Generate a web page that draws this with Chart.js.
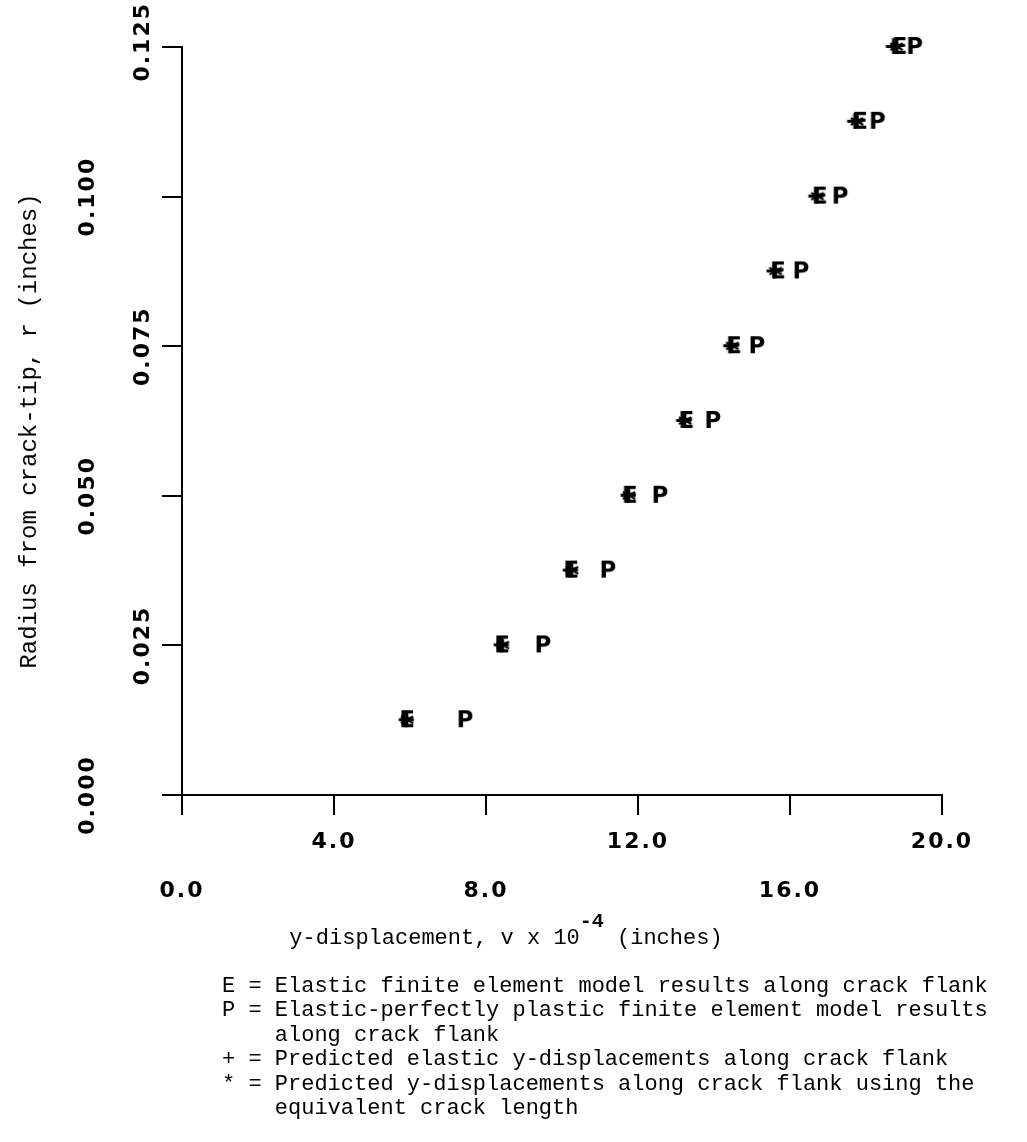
<!DOCTYPE html>
<html>
<head>
<meta charset="utf-8">
<script src="https://cdn.jsdelivr.net/npm/chart.js@4"></script>
<style>
  html, body { margin: 0; padding: 0; background: #fff; }
  #wrap { width: 1027px; height: 1142px; }
</style>
</head>
<body>
<div id="wrap"><canvas id="crackChart" width="1027" height="1142"></canvas></div>
<script>
// radius from crack tip (inches)
const rValues = [0.0125, 0.025, 0.0375, 0.05, 0.0625, 0.075, 0.0875, 0.1, 0.1125, 0.125];
// y-displacement x 1e-4 (inches) for each marker type
const elasticFE        = [5.92, 8.42, 10.24, 11.78, 13.27, 14.52, 15.68, 16.78, 17.84, 18.88];
const plasticFE        = [7.45, 9.50, 11.21, 12.58, 13.97, 15.13, 16.29, 17.32, 18.30, 19.28];
const predictedElastic = [5.90, 8.40, 10.22, 11.74, 13.20, 14.44, 15.58, 16.68, 17.70, 18.72];
const predictedEquiv   = [5.92, 8.44, 10.26, 11.76, 13.24, 14.48, 15.62, 16.72, 17.76, 18.80];

const xTicks = [0, 4, 8, 12, 16, 20];
const yTicks = [0, 0.025, 0.05, 0.075, 0.1, 0.125];

const legendLines = [
    "E = Elastic finite element model results along crack flank",
    "P = Elastic-perfectly plastic finite element model results",
    "    along crack flank",
    "+ = Predicted elastic y-displacements along crack flank",
    "* = Predicted y-displacements along crack flank using the",
    "    equivalent crack length"
];

// marker glyph -> small canvas used as pointStyle
function glyph(ch, size, dy) {
    const c = document.createElement("canvas");
    c.width = 28; c.height = 28;
    const g = c.getContext("2d");
    g.fillStyle = "#000";
    g.font = "bold " + size + "px 'DejaVu Sans'";
    g.textAlign = "center";
    g.textBaseline = "middle";
    g.fillText(ch, 14, 15 + (dy || 0));
    return c;
}

function pts(xs) {
    return xs.map((v, i) => ({ x: v, y: rValues[i] }));
}

const labelFont = "bold 22px 'DejaVu Sans'";
const monoFont = "22px 'Liberation Mono'";

// tick labels, titles and notes drawn from the scales
const textPlugin = {
    id: "textPlugin",
    afterDraw(chart) {
        const ctx = chart.ctx;
        const xs = chart.scales.x, ys = chart.scales.y;
        ctx.save();
        ctx.fillStyle = "#000";
        ctx.font = labelFont;
        ctx.letterSpacing = "2px";

        // x tick labels, staggered in two rows
        ctx.textAlign = "center";
        ctx.textBaseline = "middle";
        xTicks.forEach((v, i) => {
            const px = xs.getPixelForValue(v);
            ctx.fillText(v.toFixed(1), px, i % 2 ? 842 : 891);
        });

        // y tick labels, rotated, staggered
        yTicks.forEach((v, i) => {
            const py = ys.getPixelForValue(v);
            ctx.save();
            if (i === yTicks.length - 1) {
                // top label pushed up against the page edge
                ctx.translate(143, 2);
                ctx.rotate(-Math.PI / 2);
                ctx.textAlign = "right";
            } else {
                ctx.translate(i % 2 ? 143 : 88, py);
                ctx.rotate(-Math.PI / 2);
                ctx.textAlign = "center";
            }
            ctx.fillText(v.toFixed(3), 0, 0);
            ctx.restore();
        });
        ctx.letterSpacing = "0px";

        // y axis title
        ctx.save();
        ctx.font = "24px 'Liberation Mono'";
        ctx.translate(30, 431);
        ctx.rotate(-Math.PI / 2);
        ctx.textAlign = "center";
        ctx.fillText("Radius from crack-tip, r (inches)", 0, 0);
        ctx.restore();

        // x axis title with superscript
        ctx.font = monoFont;
        ctx.textAlign = "left";
        const a = "y-displacement, v x 10", b = "-4", c = " (inches)";
        const wa = ctx.measureText(a).width;
        ctx.font = "bold 20px 'Liberation Mono'";
        const wb = ctx.measureText(b).width;
        ctx.font = monoFont;
        const wc = ctx.measureText(c).width;
        let x0 = 506 - (wa + wb + wc) / 2;
        ctx.fillText(a, x0, 938);
        ctx.font = "bold 20px 'Liberation Mono'";
        ctx.fillText(b, x0 + wa, 922);
        ctx.font = monoFont;
        ctx.fillText(c, x0 + wa + wb, 938);

        // notes under the chart
        legendLines.forEach((t, i) => {
            ctx.fillText(t, 222, 986 + i * 24.5);
        });
        ctx.restore();
    }
};

new Chart(document.getElementById("crackChart"), {
    type: "scatter",
    data: {
        datasets: [
            { label: "E", data: pts(elasticFE), pointStyle: glyph("E", 23), clip: false },
            { label: "+", data: pts(predictedElastic), pointStyle: glyph("+", 24), clip: false },
            { label: "*", data: pts(predictedEquiv), pointStyle: glyph("*", 28, 6), clip: false },
            { label: "P", data: pts(plasticFE), pointStyle: glyph("P", 23), clip: false }
        ]
    },
    options: {
        responsive: false,
        animation: false,
        events: [],
        layout: { padding: { left: 0, top: 47, right: 85, bottom: 0 } },
        plugins: { legend: { display: false }, tooltip: { enabled: false } },
        scales: {
            x: {
                type: "linear",
                min: 0, max: 20,
                afterFit: s => { s.height = 347; },
                afterBuildTicks: s => { s.ticks = xTicks.map(v => ({ value: v })); },
                ticks: { display: false },
                grid: { drawOnChartArea: false, drawTicks: true, tickLength: 20, color: "#000", lineWidth: 2 },
                border: { display: true, color: "#000", width: 2 }
            },
            y: {
                type: "linear",
                min: 0, max: 0.125,
                afterFit: s => { s.width = 182; },
                afterBuildTicks: s => { s.ticks = yTicks.map(v => ({ value: v })); },
                ticks: { display: false },
                grid: { drawOnChartArea: false, drawTicks: true, tickLength: 20, color: "#000", lineWidth: 2 },
                border: { display: true, color: "#000", width: 2 }
            }
        }
    },
    plugins: [textPlugin]
});
</script>
</body>
</html>
